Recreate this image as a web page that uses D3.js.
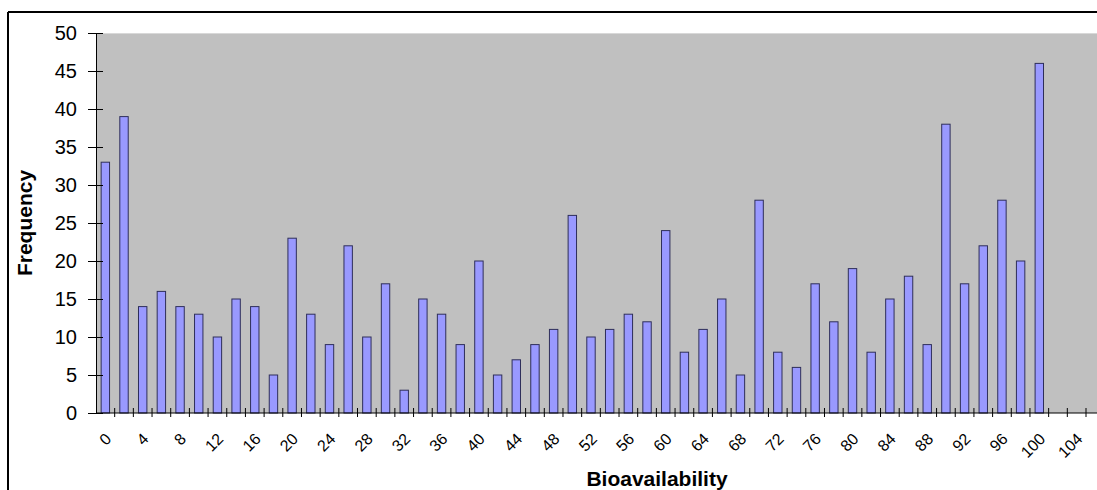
<!DOCTYPE html>
<html>
<head>
<meta charset="utf-8">
<script src="https://cdn.jsdelivr.net/npm/d3@7"></script>
<style>
  html, body { margin: 0; padding: 0; background: #fff; }
  svg { display: block; }
  text { font-family: "Liberation Sans", Arial, sans-serif; fill: #000; }
</style>
</head>
<body>
<svg id="chart" width="1097" height="490"></svg>
<script>
// Bioavailability bins (every 2 units) and their frequencies
const bins = [0,2,4,6,8,10,12,14,16,18,20,22,24,26,28,30,32,34,36,38,40,42,44,46,48,50,
              52,54,56,58,60,62,64,66,68,70,72,74,76,78,80,82,84,86,88,90,92,94,96,98,100,102,104];
const frequency = [33,39,14,16,14,13,10,15,14,5,23,13,9,22,10,17,3,15,13,9,20,5,7,9,11,26,
                   10,11,13,12,24,8,11,15,5,28,8,6,17,12,19,8,15,18,9,38,17,22,28,20,46,0,0];
const xTickLabels = [0,4,8,12,16,20,24,28,32,36,40,44,48,52,56,60,64,68,72,76,80,84,88,92,96,100,104];
const yTicks = [0,5,10,15,20,25,30,35,40,45,50];

const svg = d3.select("#chart");
const plot = { left: 96, top: 33, right: 1086, bottom: 413 };

// Outer chart frame
svg.append("line").attr("x1", 8).attr("x2", 1097).attr("y1", 12).attr("y2", 12)
  .attr("stroke", "#000").attr("stroke-width", 2);
svg.append("line").attr("x1", 8).attr("x2", 8).attr("y1", 12).attr("y2", 490)
  .attr("stroke", "#000").attr("stroke-width", 2);

const pad = 0.55;
const x = d3.scaleBand().domain(bins).range([plot.left, plot.right])
  .paddingInner(pad).paddingOuter(pad / 2);
const y = d3.scaleLinear().domain([0, 50]).range([plot.bottom, plot.top]);
const step = x.step();

// Plot area background
svg.append("rect")
  .attr("x", plot.left).attr("y", plot.top)
  .attr("width", 1097 - plot.left).attr("height", plot.bottom - plot.top)
  .attr("fill", "#c0c0c0");
svg.append("line").attr("x1", plot.left).attr("x2", 1097)
  .attr("y1", plot.top + 0.5).attr("y2", plot.top + 0.5)
  .attr("stroke", "#d8d8d8").attr("stroke-width", 1);

// Bars
svg.append("g").selectAll("rect")
  .data(bins.map((b, i) => ({ bin: b, value: frequency[i] })).filter(d => d.value > 0))
  .join("rect")
  .attr("x", d => x(d.bin))
  .attr("y", d => y(d.value))
  .attr("width", x.bandwidth())
  .attr("height", d => y(0) - y(d.value))
  .attr("fill", "#9999ff")
  .attr("stroke", "#2e2e5a")
  .attr("stroke-width", 1);

// Y axis
const yAxis = svg.append("g")
  .attr("transform", `translate(${plot.left},0)`)
  .call(d3.axisLeft(y).tickValues(yTicks).tickSizeInner(8).tickSizeOuter(0).tickPadding(11));
yAxis.select(".domain").attr("stroke", "#000");
yAxis.selectAll(".tick line").attr("x1", 7).attr("x2", -8).attr("stroke", "#000");
yAxis.selectAll(".tick text")
  .style("font-family", "'Liberation Sans', Arial, sans-serif")
  .style("font-size", "20px").attr("fill", "#000");

// X axis line and category-boundary ticks
svg.append("line").attr("x1", plot.left).attr("x2", 1097)
  .attr("y1", plot.bottom).attr("y2", plot.bottom).attr("stroke", "#000");
svg.append("g").selectAll("line")
  .data(bins.slice(1).concat(["end"]))
  .join("line")
  .attr("x1", d => (d === "end" ? x(bins[bins.length - 1]) + step : x(d)) - step * pad / 2)
  .attr("x2", d => (d === "end" ? x(bins[bins.length - 1]) + step : x(d)) - step * pad / 2)
  .attr("y1", plot.bottom - 5).attr("y2", plot.bottom + 4)
  .attr("stroke", "#000");

// X tick labels, rotated
svg.append("g").selectAll("text")
  .data(xTickLabels)
  .join("text")
  .attr("transform", d => `translate(${x(d) + x.bandwidth() / 2 + 3},${plot.bottom + 23}) rotate(-45)`)
  .attr("text-anchor", "end")
  .attr("dy", "0.35em")
  .style("font-size", "16px")
  .text(d => d);

// Axis titles
svg.append("text")
  .attr("transform", `translate(32,${(plot.top + plot.bottom) / 2}) rotate(-90)`)
  .attr("text-anchor", "middle")
  .style("font-size", "21px").style("font-weight", "bold")
  .text("Frequency");
svg.append("text")
  .attr("x", 657).attr("y", 486)
  .attr("text-anchor", "middle")
  .style("font-size", "21px").style("font-weight", "bold")
  .text("Bioavailability");
</script>
</body>
</html>
